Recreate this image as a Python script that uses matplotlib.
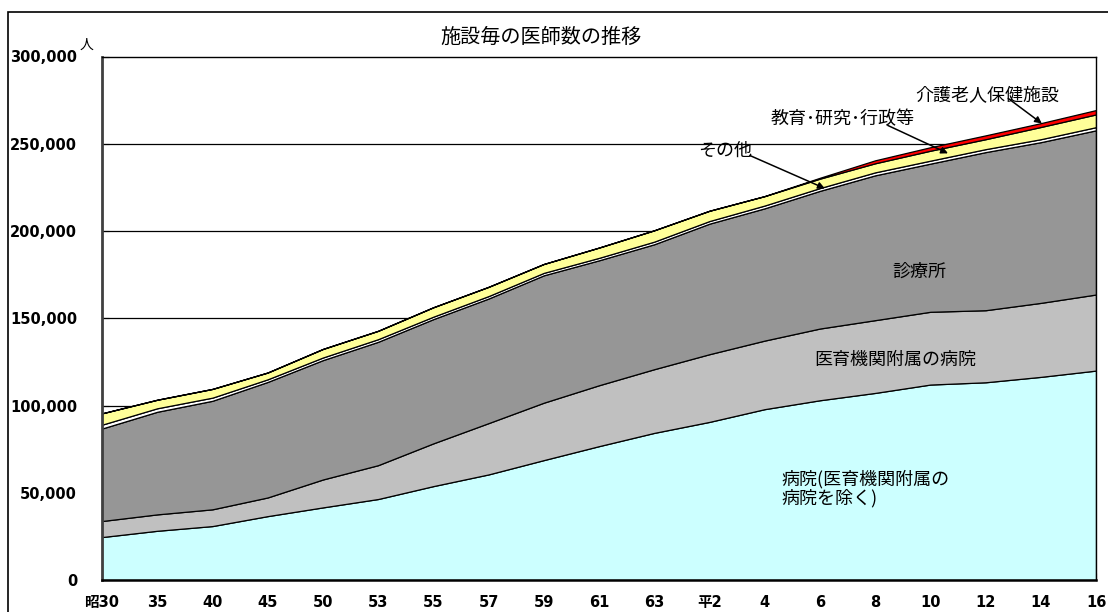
import matplotlib
matplotlib.use("Agg")
import matplotlib.pyplot as plt
from matplotlib.patches import Rectangle

# Survey years (Showa / Heisei)
years = ['昭30', '35', '40', '45', '50', '53', '55', '57', '59', '61',
         '63', '平2', '4', '6', '8', '10', '12', '14', '16']

# Physicians by facility type (persons)
hospital = [24600, 28200, 30900, 36600, 41600, 46400, 53800, 60500, 68700, 76700,
            84300, 90600, 97900, 103000, 107200, 112000, 113300, 116400, 120000]
university = [9200, 9400, 9600, 10700, 16000, 19400, 24500, 29400, 32900, 34900,
              36500, 38800, 39300, 41100, 41700, 41700, 41300, 42400, 43600]
clinic = [53000, 58800, 62200, 66200, 68400, 70700, 71200, 71400, 73000, 71600,
          71600, 74800, 75800, 78900, 83000, 84900, 90600, 92100, 94100]
other = [2200, 2000, 1800, 1500, 1500, 1500, 1400, 1400, 1400, 1400,
         1500, 1500, 1600, 1600, 1700, 1700, 1700, 1700, 1800]
education = [6500, 4900, 5000, 3900, 4900, 4800, 5400, 5300, 5100, 5900,
             6500, 5900, 5400, 5400, 5200, 5700, 5700, 7000, 7300]
geriatric = [0, 0, 0, 0, 0, 0, 0, 0, 0, 0,
             0, 0, 0, 500, 1700, 2000, 2200, 2200, 2500]

y_ticks = [0, 50000, 100000, 150000, 200000, 250000, 300000]

colors = ['#CCFFFF', '#C0C0C0', '#969696', '#FFFFFF', '#FFFF99', '#FF0000']

W, H = 1108, 612
fig = plt.figure(figsize=(W / 100, H / 100), dpi=100)
fig.patch.set_facecolor('white')

# Outer chart frame
fig.patches.append(Rectangle((8 / W, -0.2), 2, (H - 12) / H + 0.2,
                             transform=fig.transFigure, fill=False,
                             edgecolor='black', linewidth=1.2))

ax = fig.add_axes([102 / W, (H - 580) / H, (1096 - 102) / W, (580 - 56.5) / H])

x = list(range(len(years)))
ax.stackplot(x, hospital, university, clinic, other, education, geriatric,
             colors=colors, edgecolor='black', linewidth=0.9, zorder=3)

ax.set_xlim(0, len(years) - 1)
ax.set_ylim(0, 300000)

for v in y_ticks[1:-1]:
    ax.axhline(v, color='black', linewidth=0.9, zorder=1)

tick_font = dict(family=['DejaVu Sans', 'Noto Sans CJK JP'], weight='bold', size=10.5)
ax.set_xticks(x)
ax.set_xticklabels(years, fontdict=tick_font)
ax.set_yticks(y_ticks)
ax.set_yticklabels([f'{v:,}' for v in y_ticks], fontdict=tick_font)
ax.tick_params(axis='x', direction='in', length=5, pad=10.5, colors='black')
ax.tick_params(axis='y', direction='in', length=5, pad=18, colors='black')

ax.spines['left'].set_color('#404040')
ax.spines['left'].set_linewidth(2)
ax.spines['bottom'].set_linewidth(1.8)
ax.spines['right'].set_linewidth(1)
ax.spines['top'].set_linewidth(1)
for s in ax.spines.values():
    s.set_zorder(5)

jp = ['Noto Sans CJK JP', 'DejaVu Sans']

fig.text(541 / W, 1 - 37 / H, '施設毎の医師数の推移', family=jp, size=14.5,
         ha='center', va='center')
fig.text(87 / W, 1 - 45 / H, '人', family=jp, size=10, ha='center', va='center')

lab = dict(family=jp, size=13, va='center')
ax.text(14.8, 176400, '診療所', ha='center', **lab)
ax.text(14.36, 126000, '医育機関附属の病院', ha='center', **lab)
ax.text(12.31, 52500, '病院(医育機関附属の\n病院を除く)', ha='left',
        linespacing=1.05, **lab)
ax.text(11.28, 246200, 'その他', ha='center', **lab)
ax.text(13.42, 264000, '教育･研究･行政等', ha='center', **lab)
ax.text(16.04, 277100, '介護老人保健施設', ha='center', **lab)

arrow = dict(arrowstyle='-|>', color='black', lw=1.1, mutation_scale=10,
             shrinkA=0, shrinkB=0)
ax.annotate('', xy=(13.09, 224400), xytext=(11.73, 243300), arrowprops=arrow, zorder=6)
ax.annotate('', xy=(15.32, 244500), xytext=(14.23, 260500), arrowprops=arrow, zorder=6)
ax.annotate('', xy=(17.02, 261600), xytext=(16.41, 276000), arrowprops=arrow, zorder=6)

fig.savefig('out.png', dpi=100, facecolor='white')
